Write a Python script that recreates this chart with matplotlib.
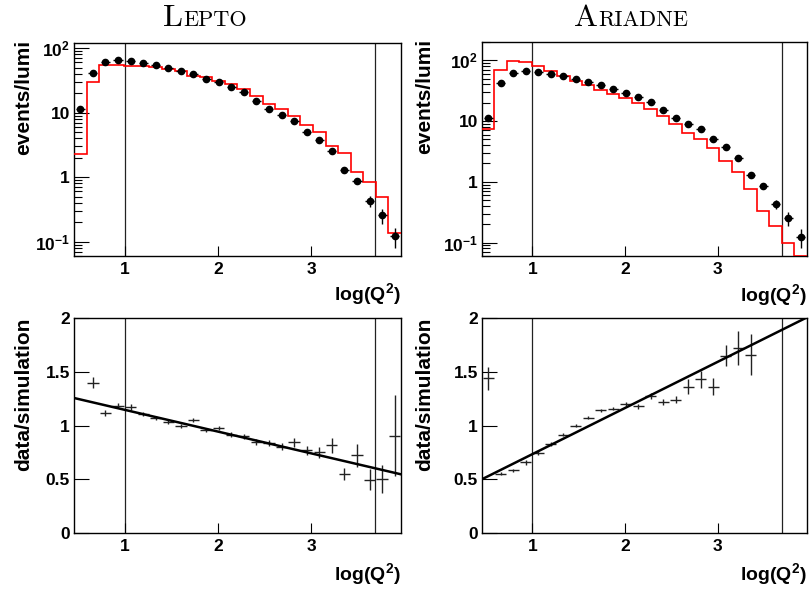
import numpy as np
import matplotlib
matplotlib.use('Agg')
import matplotlib.pyplot as plt
from matplotlib.ticker import LogLocator, NullFormatter, FixedLocator

plt.rcParams['font.family'] = ['Liberation Sans', 'DejaVu Sans']
plt.rcParams['font.weight'] = 'bold'
plt.rcParams['mathtext.fontset'] = 'custom'
plt.rcParams['mathtext.bf'] = 'Liberation Sans:bold'
plt.rcParams['mathtext.rm'] = 'Liberation Sans:bold'

# binning in log(Q^2)
x_lo, x_hi, nbins = 0.455, 3.965, 26
cut_lines = [1.0, 3.69]

data_y = [11.3, 41.6, 60.8, 66, 63.7, 58.6, 54.6, 49, 44, 39.6, 33.2, 29.4, 24.9,
          20.9, 15.3, 11.4, 9.1, 7.4, 5.0, 3.7, 2.5, 1.31, 0.86, 0.43, 0.255, 0.122]
data_err = [1.0, 1.5, 1.8, 1.9, 1.8, 1.7, 1.6, 1.4, 1.3, 1.2, 1.0, 0.9, 0.8,
            0.7, 0.55, 0.45, 0.38, 0.32, 0.25, 0.2, 0.15, 0.1, 0.07, 0.08, 0.065, 0.042]

lepto_mc = [2.3, 29.8, 55.2, 55, 53.3, 52, 50.2, 47.9, 44.6, 37.3, 35.2, 30.5, 27.8,
            23.2, 17.9, 13.8, 11.5, 8.8, 6.4, 5.0, 3.09, 2.38, 1.19, 0.85, 0.50, 0.138]
ariadne_mc = [7.5, 70.5, 97.5, 94, 80.8, 67, 55.6, 46, 39, 32.8, 27.9, 24, 20.1,
              15.9, 11.9, 8.8, 6.4, 5.0, 3.6, 2.23, 1.44, 0.77, 0.33, 0.19, 0.098, 0.06]

nan = np.nan
lepto_ratio = [nan, 1.40, 1.116, 1.184, 1.172, 1.11, 1.07, 1.03, 0.998, 1.048, 0.961, 0.977, 0.915,
               0.899, 0.847, 0.837, 0.803, 0.843, 0.769, 0.75, 0.816, 0.552, 0.722, 0.496, 0.505, 0.905]
lepto_ratio_err = [nan, 0.05, 0.025, 0.025, 0.025, 0.02, 0.02, 0.02, 0.02, 0.02, 0.02, 0.02, 0.02,
                   0.02, 0.025, 0.025, 0.03, 0.04, 0.04, 0.05, 0.07, 0.057, 0.107, 0.096, 0.13, 0.377]
ariadne_ratio = [1.44, 0.553, 0.584, 0.656, 0.744, 0.828, 0.915, 1.0, 1.072, 1.14, 1.156, 1.197, 1.178,
                 1.272, 1.219, 1.24, 1.36, 1.428, 1.36, 1.65, 1.72, 1.66, nan, nan, nan, nan]
ariadne_ratio_err = [0.106, 0.015, 0.015, 0.02, 0.015, 0.015, 0.015, 0.015, 0.015, 0.015, 0.015, 0.02, 0.02,
                     0.03, 0.03, 0.035, 0.07, 0.078, 0.08, 0.1, 0.16, 0.19, nan, nan, nan, nan]

# straight line fits (intercept, slope)
lepto_fit = (1.348, -0.2023)
ariadne_fit = (0.305, 0.429)

titles = ['Lepto', 'Ariadne']
title_x = [205, 631]

edges = np.linspace(x_lo, x_hi, nbins + 1)
centers = 0.5 * (edges[:-1] + edges[1:])
bw = edges[1] - edges[0]

W, H = 812, 590
fig = plt.figure(figsize=(W / 100, H / 100), dpi=100)

def style_axes(ax):
    ax.set_xlim(x_lo, x_hi)
    ax.xaxis.set_major_locator(FixedLocator([1, 2, 3]))
    ax.set_xticklabels(['1', '2', '3'])
    ax.tick_params(axis='x', which='major', direction='in', length=7, width=0.8,
                   top=False, labelsize=12.5, pad=4)
    ax.tick_params(axis='y', which='major', direction='in', length=11, width=0.8,
                   right=False, labelsize=12.5, pad=3)
    ax.tick_params(axis='y', which='minor', direction='in', length=6, width=0.8, right=False)
    ax.tick_params(axis='x', which='minor', bottom=False, top=False)
    for s in ax.spines.values():
        s.set_linewidth(1.0)
    for xv in cut_lines:
        ax.axvline(xv, color='#222222', lw=0.9, zorder=1)

axes_top = [fig.add_axes([74 / W, 1 - 256 / H, 327 / W, 213 / H]),
            fig.add_axes([482 / W, 1 - 256 / H, 325 / W, 214 / H])]
axes_bot = [fig.add_axes([74 / W, 1 - 533 / H, 327 / W, 215 / H]),
            fig.add_axes([482 / W, 1 - 533 / H, 325 / W, 215 / H])]

mcs = [lepto_mc, ariadne_mc]
ytops = [120, 200]
ylab_x = [-0.125, -0.148]
for i, ax in enumerate(axes_top):
    ax.set_yscale('log')
    style_axes(ax)
    ax.stairs(mcs[i], edges, color='red', lw=1.2, baseline=None, zorder=3)
    ax.errorbar(centers, data_y, yerr=data_err, xerr=bw * 0.36, fmt='o', color='black',
                ms=4.5, elinewidth=1.0, capsize=0, zorder=4)
    ax.set_ylim(0.06, ytops[i])
    ax.yaxis.set_major_locator(FixedLocator([0.1, 1, 10, 100]))
    ax.set_yticklabels([r'$\mathbf{10^{-1}}$', '1', '10', r'$\mathbf{10^{2}}$'])
    ax.yaxis.set_minor_locator(LogLocator(base=10, subs=np.arange(2, 10), numticks=20))
    ax.yaxis.set_minor_formatter(NullFormatter())
    ax.set_ylabel('events/lumi', fontsize=15, fontweight='bold', loc='top')
    ax.yaxis.set_label_coords(ylab_x[i], 1.014)
    ax.set_xlabel(r'$\mathbf{log(Q^{2})}$', fontsize=14, loc='right')
    ax.xaxis.set_label_coords(1.0, -0.12)

ratios = [lepto_ratio, ariadne_ratio]
ratio_errs = [lepto_ratio_err, ariadne_ratio_err]
fits = [lepto_fit, ariadne_fit]
for i, ax in enumerate(axes_bot):
    style_axes(ax)
    ax.errorbar(centers, ratios[i], yerr=ratio_errs[i], xerr=bw * 0.45, fmt='none',
                ecolor='#222222', elinewidth=1.0, capsize=0, zorder=3)
    xf = np.array([x_lo, x_hi])
    ax.plot(xf, fits[i][0] + fits[i][1] * xf, color='black', lw=1.8, zorder=4)
    ax.set_ylim(0, 2)
    ax.yaxis.set_major_locator(FixedLocator([0, 0.5, 1, 1.5, 2]))
    ax.set_yticklabels(['0', '0.5', '1', '1.5', '2'])
    ax.set_ylabel('data/simulation', fontsize=15, fontweight='bold', loc='top')
    ax.yaxis.set_label_coords(ylab_x[i], 1.0)
    ax.set_xlabel(r'$\mathbf{log(Q^{2})}$', fontsize=14, loc='right')
    ax.xaxis.set_label_coords(1.0, -0.13)

# small caps titles
r = fig.canvas.get_renderer()
for word, xc in zip(titles, title_x):
    t1 = fig.text(0, 1 - 26 / H, word[0], fontsize=23, family='cmr10', fontweight='normal', va='baseline')
    t2 = fig.text(0, 1 - 26 / H, word[1:].upper(), fontsize=16, family='cmr10', fontweight='normal', va='baseline')
    w1 = t1.get_window_extent(r).width
    w2 = t2.get_window_extent(r).width
    x0 = xc - (w1 + w2) / 2
    t1.set_x(x0 / W)
    t2.set_x((x0 + w1) / W)

fig.savefig('out.png', dpi=100)
